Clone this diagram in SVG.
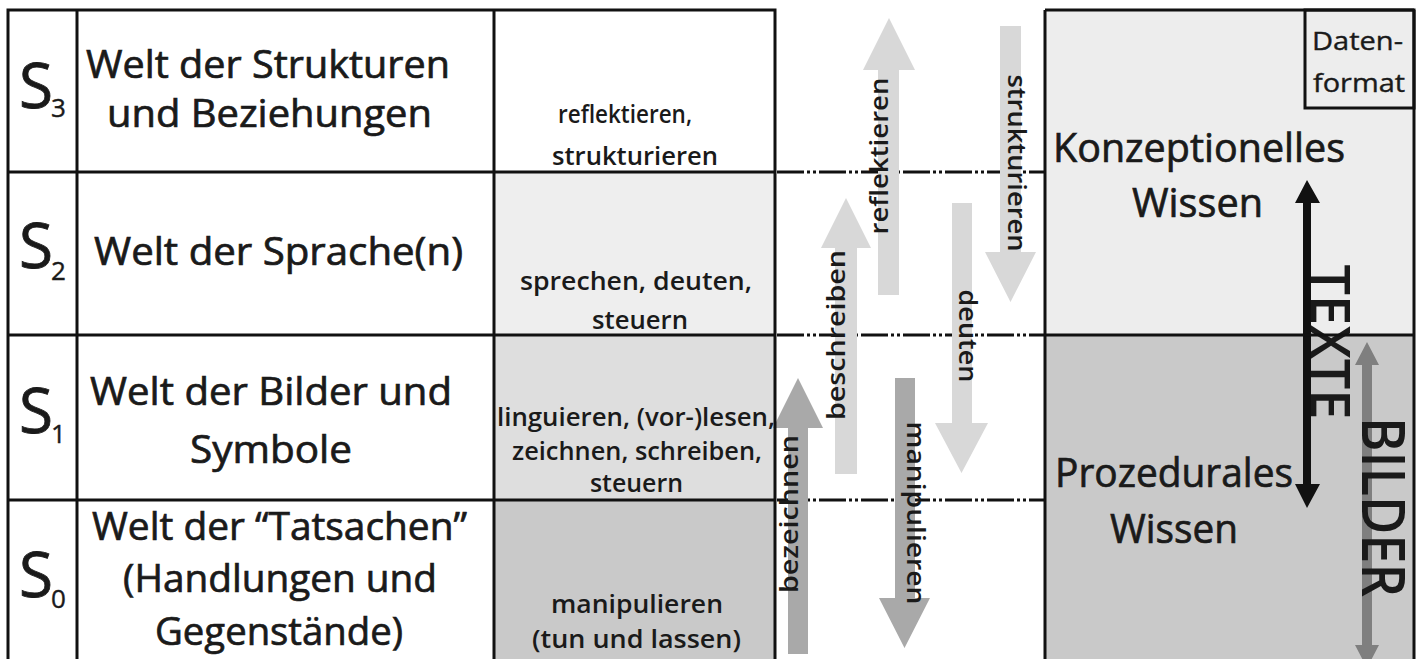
<svg xmlns="http://www.w3.org/2000/svg" width="1424" height="659" viewBox="0 0 1424 659">
<defs>
<style>
text{font-family:"Open Sans","Noto Sans","DejaVu Sans",sans-serif;fill:#1a1a1a}
.big{font-size:38px;stroke:#1a1a1a;stroke-width:0.7}
.s{font-size:62px;stroke:#1a1a1a;stroke-width:0.8}
.sub{font-size:26px;stroke:#1a1a1a;stroke-width:0.4}
.act{font-size:25px;font-weight:600}
.lab{font-size:25px;font-weight:600;text-anchor:middle}
.kn{font-size:40px;stroke:#1a1a1a;stroke-width:0.7}
.grid{stroke:#111;stroke-width:3;fill:none}
.dash{stroke:#111;stroke-width:3;stroke-dasharray:27 3 3 3 3 3;fill:none}
.light{fill:#d8d8d8}
.dark{fill:#a9a9a9}
</style>
</defs>
<rect x="0" y="0" width="1424" height="659" fill="#ffffff"/>

<!-- left table fills -->
<g id="table-fills">
<rect x="494" y="172" width="281" height="163" fill="#eeeeee"/>
<rect x="494" y="335" width="281" height="165" fill="#dedede"/>
<rect x="494" y="500" width="281" height="165" fill="#c9c9c9"/>
</g>

<!-- right box fills -->
<g id="knowledge-fills">
<rect x="1045" y="10" width="369" height="325" fill="#ededed"/>
<rect x="1045" y="335" width="369" height="330" fill="#c9c9c9"/>
</g>

<!-- level separators -->
<g id="separators">
<line class="dash" x1="777" y1="172" x2="1044" y2="172"/>
<line class="dash" x1="777" y1="335" x2="1044" y2="335"/>
<line class="dash" x1="777" y1="500" x2="1044" y2="500"/>
</g>

<!-- connectors -->
<g id="connectors">
<g id="arrow-reflektieren">
<polygon class="light" points="889,18 915,70 899,70 899,295 878,295 878,70 863,70"/>
<text class="lab" transform="translate(888,156) rotate(-90)" textLength="157" lengthAdjust="spacingAndGlyphs">reflektieren</text>
</g>
<g id="arrow-strukturieren">
<polygon class="light" points="1000,26 1021,26 1021,252 1036,252 1010.5,302 985,252 1000,252"/>
<text class="lab" transform="translate(1008,163) rotate(90)" textLength="177" lengthAdjust="spacingAndGlyphs">strukturieren</text>
</g>
<g id="arrow-beschreiben">
<polygon class="light" points="846,198 871,248 857,248 857,474 835,474 835,248 821,248"/>
<text class="lab" transform="translate(845,335) rotate(-90)" textLength="170" lengthAdjust="spacingAndGlyphs">beschreiben</text>
</g>
<g id="arrow-deuten">
<polygon class="light" points="952,203 972,203 972,423 988,423 961.5,473 935,423 952,423"/>
<text class="lab" transform="translate(959,336) rotate(90)" textLength="93" lengthAdjust="spacingAndGlyphs">deuten</text>
</g>
<g id="arrow-bezeichnen">
<polygon class="dark" points="798,378 823,428 808,428 808,654 788,654 788,428 773,428"/>
<text class="lab" transform="translate(798,514) rotate(-90)" textLength="158" lengthAdjust="spacingAndGlyphs">bezeichnen</text>
</g>
<g id="arrow-manipulieren">
<polygon class="dark" points="895,378 915,378 915,598 930,598 904.5,648 879,598 895,598"/>
<text class="lab" transform="translate(907,513) rotate(90)" textLength="183" lengthAdjust="spacingAndGlyphs">manipulieren</text>
</g>
<g id="arrow-texte">
<polygon fill="#111111" points="1307,180 1320,203 1311,203 1311,484 1320,484 1307,508 1295,484 1303,484 1303,203 1295,203"/>
<text transform="translate(1311,342) rotate(90)" text-anchor="middle" font-size="54" font-weight="600" textLength="155" lengthAdjust="spacingAndGlyphs">TEXTE</text>
</g>
<g id="arrow-bilder">
<polygon fill="#7f7f7f" points="1367,342 1379,365 1372,365 1372,645 1379,645 1367,668 1355,645 1362,645 1362,365 1355,365"/>
<text transform="translate(1362,507) rotate(90)" text-anchor="middle" font-size="60" font-weight="600" textLength="180" lengthAdjust="spacingAndGlyphs">BILDER</text>
</g>
</g>

<!-- table grid -->
<g id="table-grid">
<rect class="grid" x="8" y="10" width="767" height="660"/>
<line class="grid" x1="77" y1="10" x2="77" y2="670"/>
<line class="grid" x1="494" y1="10" x2="494" y2="670"/>
<line class="grid" x1="8" y1="172" x2="775" y2="172"/>
<line class="grid" x1="8" y1="335" x2="775" y2="335"/>
<line class="grid" x1="8" y1="500" x2="775" y2="500"/>
</g>

<!-- levels -->
<g id="level-s3">
<text class="s" x="19" y="108">S</text><text class="sub" x="51" y="117">3</text>
<text class="big" x="86" y="78" textLength="364" lengthAdjust="spacingAndGlyphs">Welt der Strukturen</text>
<text class="big" x="107" y="127" textLength="325" lengthAdjust="spacingAndGlyphs">und Beziehungen</text>
<text class="act" x="558" y="123" textLength="134" lengthAdjust="spacingAndGlyphs">reflektieren,</text>
<text class="act" x="552" y="165" textLength="166" lengthAdjust="spacingAndGlyphs">strukturieren</text>
</g>
<g id="level-s2">
<text class="s" x="19" y="268">S</text><text class="sub" x="51" y="280">2</text>
<text class="big" x="94" y="265" textLength="369" lengthAdjust="spacingAndGlyphs">Welt der Sprache(n)</text>
<text class="act" x="520" y="290" textLength="232" lengthAdjust="spacingAndGlyphs">sprechen, deuten,</text>
<text class="act" x="592" y="329" textLength="96" lengthAdjust="spacingAndGlyphs">steuern</text>
</g>
<g id="level-s1">
<text class="s" x="19" y="433">S</text><text class="sub" x="51" y="443">1</text>
<text class="big" x="90" y="405" textLength="362" lengthAdjust="spacingAndGlyphs">Welt der Bilder und</text>
<text class="big" x="190" y="463" textLength="162" lengthAdjust="spacingAndGlyphs">Symbole</text>
<text class="act" x="497" y="426" textLength="278" lengthAdjust="spacingAndGlyphs">linguieren, (vor-)lesen,</text>
<text class="act" x="512" y="460" textLength="250" lengthAdjust="spacingAndGlyphs">zeichnen, schreiben,</text>
<text class="act" x="590" y="492" textLength="93" lengthAdjust="spacingAndGlyphs">steuern</text>
</g>
<g id="level-s0">
<text class="s" x="19" y="597">S</text><text class="sub" x="51" y="608">0</text>
<text class="big" x="92" y="540" textLength="375" lengthAdjust="spacingAndGlyphs">Welt der “Tatsachen”</text>
<text class="big" x="123" y="592" textLength="314" lengthAdjust="spacingAndGlyphs">(Handlungen und</text>
<text class="big" x="155" y="645" textLength="248" lengthAdjust="spacingAndGlyphs">Gegenstände)</text>
<text class="act" x="551" y="613" textLength="172" lengthAdjust="spacingAndGlyphs">manipulieren</text>
<text class="act" x="532" y="648" textLength="209" lengthAdjust="spacingAndGlyphs">(tun und lassen)</text>
</g>

<!-- knowledge box -->
<g id="knowledge-box">
<line class="grid" x1="1045" y1="10" x2="1045" y2="670"/>
<line class="grid" x1="1414" y1="10" x2="1414" y2="670"/>
<line class="grid" x1="1045" y1="10" x2="1414" y2="10"/>
<line class="grid" x1="1045" y1="335" x2="1414" y2="335"/>
</g>
<g id="konzeptionelles-wissen">
<text class="kn" x="1053" y="162" textLength="292" lengthAdjust="spacingAndGlyphs">Konzeptionelles</text>
<text class="kn" x="1132" y="217" textLength="131" lengthAdjust="spacingAndGlyphs">Wissen</text>
</g>
<g id="prozedurales-wissen">
<text class="kn" x="1055" y="487" textLength="238" lengthAdjust="spacingAndGlyphs">Prozedurales</text>
<text class="kn" x="1110" y="543" textLength="128" lengthAdjust="spacingAndGlyphs">Wissen</text>
</g>
<g id="datenformat">
<rect class="grid" x="1305" y="10" width="109" height="98" fill="#ffffff"/>
<text x="1312" y="50" font-size="26" stroke="#1a1a1a" stroke-width="0.4" textLength="91" lengthAdjust="spacingAndGlyphs">Daten-</text>
<text x="1313" y="92" font-size="26" stroke="#1a1a1a" stroke-width="0.4" textLength="92" lengthAdjust="spacingAndGlyphs">format</text>
</g>
</svg>
